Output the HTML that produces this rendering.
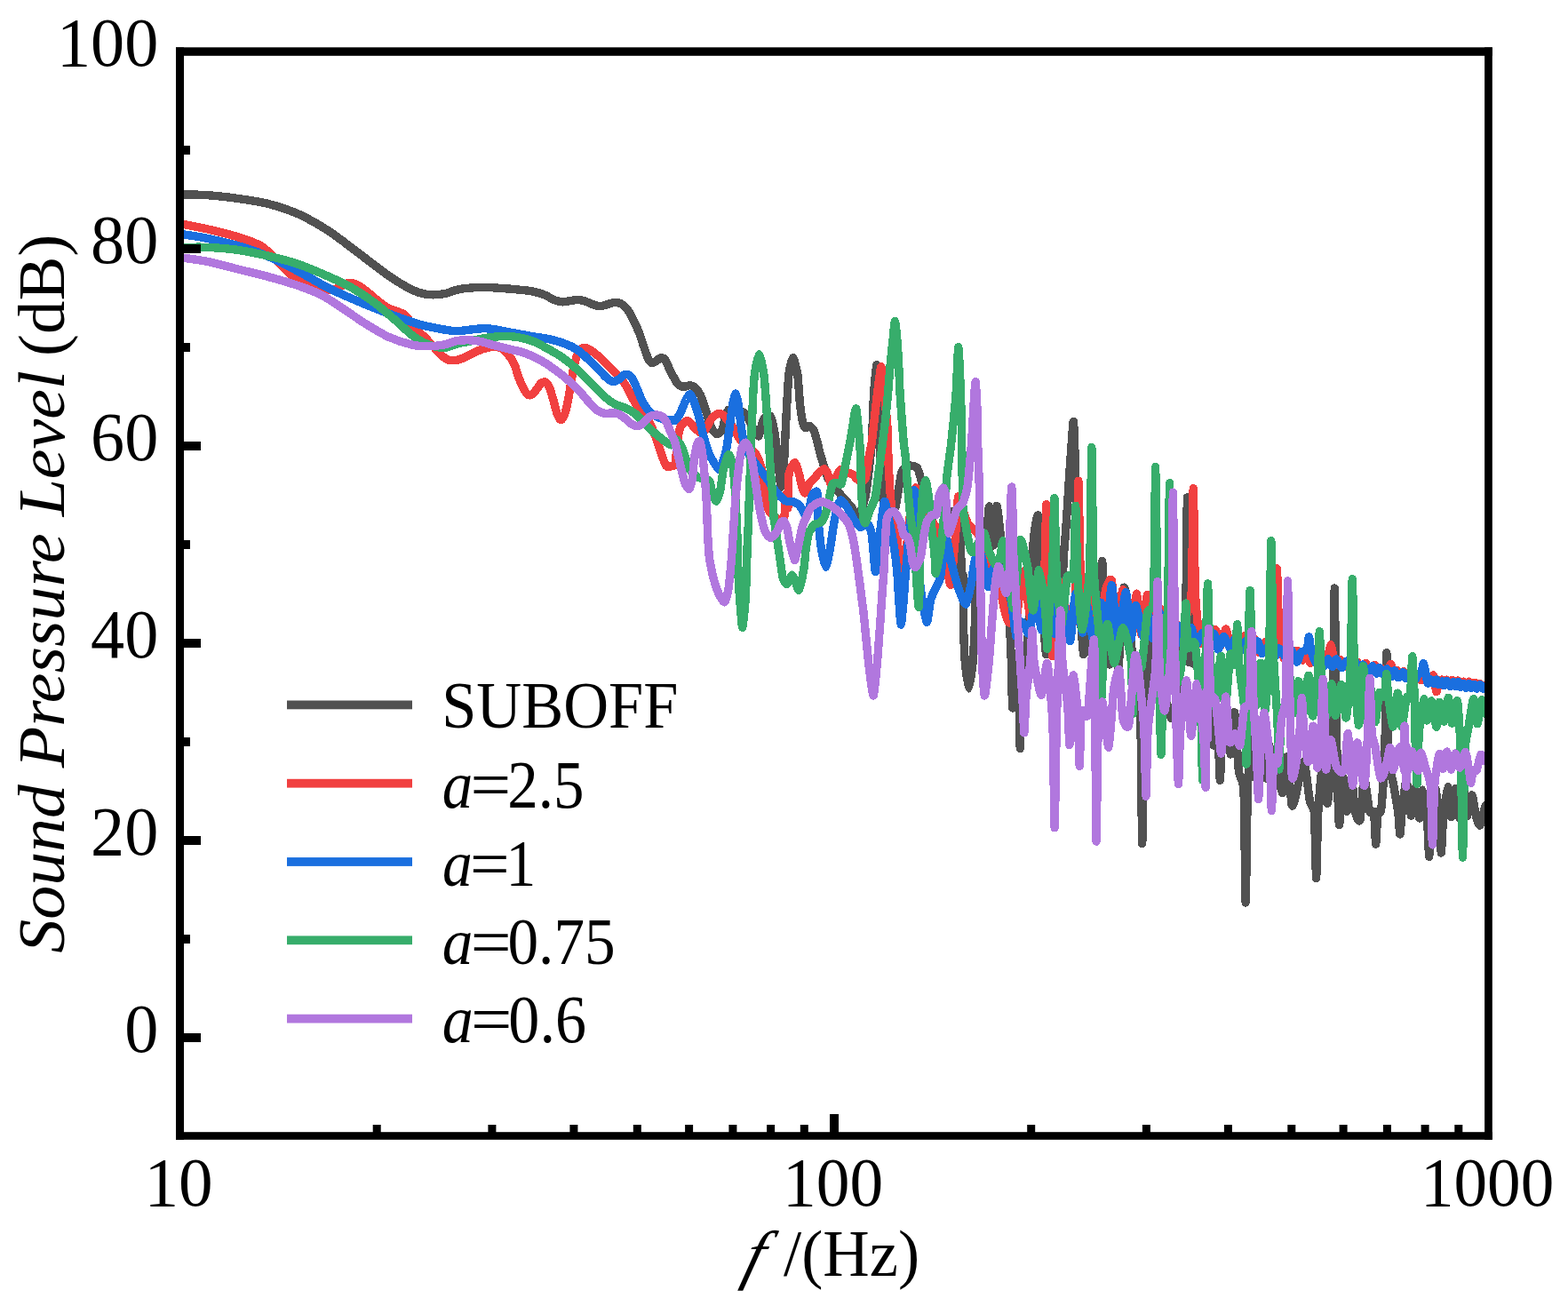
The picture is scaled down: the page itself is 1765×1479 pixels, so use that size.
<!DOCTYPE html>
<html lang="en"><head><meta charset="utf-8"><title>Sound Pressure Level</title>
<style>html,body{margin:0;padding:0;background:#fff;overflow:hidden}svg{display:block}text{font-family:"Liberation Serif","DejaVu Serif",serif;fill:#000}.i{font-style:italic}.c{fill:none;stroke-width:9.4;stroke-linejoin:round;stroke-linecap:butt}</style></head><body>
<svg width="1765" height="1479" viewBox="0 0 1765 1479" role="img" aria-label="Sound pressure level spectra">
<rect width="1765" height="1479" fill="#fff"/>
<defs><clipPath id="cp"><rect x="202.5" y="58.0" width="1473.0" height="1220.2"/></clipPath></defs>
<g clip-path="url(#cp)" shape-rendering="crispEdges">
<path class="c" stroke="#515151" d="M200.0 218.7C201.2 218.7 201.5 218.7 207.1 218.9C212.8 219.1 223.9 219.0 234.0 219.7C244.1 220.5 256.7 221.9 268.0 223.5C279.3 225.1 290.7 226.5 302.0 229.4C313.3 232.4 324.6 235.9 336.0 241.0C347.3 246.1 358.6 252.7 370.0 260.0C381.3 267.4 392.6 276.7 404.0 285.2C415.3 293.6 428.0 303.9 438.0 310.7C447.9 317.5 456.4 322.5 463.5 326.0C470.5 329.4 474.4 330.6 480.5 331.4C486.5 332.2 494.4 331.6 500.0 330.7C505.6 329.9 508.8 327.4 514.0 326.2C519.2 325.1 525.3 324.3 531.0 323.9C536.7 323.4 542.3 323.4 548.0 323.5C553.7 323.6 559.3 324.1 565.0 324.5C570.7 324.9 576.3 325.3 582.0 325.9C587.6 326.5 593.9 326.9 599.0 327.9C604.1 328.9 608.3 330.2 612.6 331.8C616.8 333.5 621.1 336.5 624.5 337.8C627.9 339.1 630.1 339.7 633.0 339.8C635.8 340.0 638.6 339.0 641.5 338.6C644.3 338.3 647.2 337.4 650.0 337.5C652.7 337.5 655.8 338.2 658.5 339.0C661.1 339.8 664.4 341.7 667.0 342.5C669.5 343.4 672.9 344.6 675.5 344.6C677.9 344.6 681.5 343.2 684.0 342.5C686.3 342.0 690.3 340.4 692.5 340.3C694.5 340.3 697.4 341.0 699.3 342.0C701.1 343.0 704.3 345.6 706.1 348.0C707.8 350.3 711.1 356.4 712.9 359.9C714.6 363.3 718.2 371.4 719.7 375.2C721.1 378.9 723.6 387.2 724.8 390.5C725.9 393.7 728.0 400.3 729.0 402.4C730.0 404.5 732.2 407.8 733.3 408.3C734.3 408.8 737.2 407.3 738.4 406.6C739.5 406.0 742.3 403.0 743.5 402.7C744.6 402.5 747.5 403.2 748.6 404.4C749.6 405.6 751.8 411.6 753.1 414.3C754.4 416.8 759.7 427.6 761.1 429.7C762.5 431.8 765.7 434.3 766.8 434.8C767.9 435.3 771.4 434.9 772.5 434.8C773.5 434.7 776.0 433.5 777.0 433.7C778.0 433.9 781.5 435.4 782.7 436.5C783.8 437.6 787.2 442.1 788.3 444.4C789.5 446.8 793.0 457.3 794.0 460.3C795.0 463.4 797.6 472.5 798.5 475.0C799.4 477.5 802.2 483.9 803.1 485.2C804.0 486.6 806.6 488.9 807.6 488.6C808.6 488.4 812.4 485.0 813.3 483.0C814.2 480.9 816.0 470.4 816.7 468.2C817.3 466.1 818.9 462.2 820.1 461.4C821.2 460.7 826.1 459.9 828.0 460.3C829.9 460.8 837.4 463.9 839.3 466.0C841.2 468.0 845.8 478.2 847.3 480.7C848.7 483.2 852.9 491.6 854.1 490.9C855.2 490.2 857.7 476.2 858.6 473.9C859.5 471.6 862.2 468.1 863.1 467.7C864.0 467.2 866.7 467.3 867.6 469.4C868.6 471.5 871.4 483.9 872.2 488.6C873.0 493.3 874.9 510.4 875.6 516.3C876.3 522.3 878.3 547.5 879.0 548.0C879.7 548.6 881.8 529.1 882.4 522.0C882.9 514.8 884.3 483.4 884.6 476.7C885.0 469.9 885.4 460.2 885.8 454.6C886.1 449.0 887.4 425.9 888.0 420.7C888.7 415.5 891.6 402.6 892.6 402.6C893.5 402.6 896.9 415.5 897.7 420.7C898.5 425.9 899.9 449.1 900.5 454.6C901.1 460.2 903.2 473.5 903.9 476.2C904.6 478.9 906.5 481.5 907.3 481.8C908.1 482.2 910.9 479.2 911.8 479.6C912.7 479.9 915.6 483.5 916.4 485.2C917.2 487.0 919.1 494.5 919.8 497.0C920.5 499.6 922.5 508.2 923.2 510.7C923.9 513.1 925.7 519.2 926.6 522.0C927.5 524.8 930.5 535.8 932.2 539.0C933.9 542.2 940.8 550.3 943.6 553.7C946.3 557.1 958.0 569.5 960.0 573.0C962.0 576.5 962.4 590.2 963.8 588.8C965.2 587.4 972.5 565.6 974.0 559.3C975.5 552.9 977.8 531.5 978.5 525.3C979.2 519.1 980.9 505.2 981.4 497.0C981.9 488.8 983.0 451.9 983.6 443.3C984.2 434.7 986.5 409.9 987.0 410.6C987.5 411.3 988.3 441.4 988.6 450.0C988.9 458.6 989.5 487.0 989.9 497.0C990.3 507.0 992.4 542.2 993.0 550.0C993.6 557.8 995.1 572.2 996.0 575.0C996.9 577.8 1000.8 578.4 1002.0 578.0C1003.2 577.6 1006.7 575.3 1008.0 570.7C1009.3 566.1 1013.4 536.8 1014.8 532.1C1016.2 527.4 1020.2 524.5 1022.0 524.0C1023.8 523.5 1030.9 524.8 1032.4 526.6C1034.0 528.4 1036.2 538.0 1037.5 542.3C1038.8 546.6 1043.4 564.3 1045.0 570.0C1046.6 575.7 1051.6 592.0 1053.3 599.0C1055.0 606.0 1060.5 639.9 1061.8 640.0C1063.1 640.1 1065.2 606.4 1066.0 600.0C1066.8 593.6 1069.3 578.3 1070.3 576.3C1071.3 574.3 1075.0 578.9 1076.0 580.0C1077.0 581.1 1079.8 578.4 1080.5 587.6C1081.2 596.8 1082.7 666.1 1083.0 672.0C1083.3 677.9 1083.8 644.2 1083.9 647.0C1084.1 649.8 1084.3 690.4 1084.5 700.0C1084.7 709.6 1085.6 735.8 1086.2 743.3C1086.8 750.8 1089.8 775.0 1090.7 775.0C1091.6 775.0 1094.5 751.0 1095.2 743.3C1095.9 735.6 1097.2 705.9 1097.5 698.0C1097.8 690.1 1097.8 669.8 1098.6 664.0C1099.3 658.2 1103.9 644.8 1105.0 640.0C1106.1 635.2 1109.2 623.0 1110.0 616.0C1110.8 609.0 1112.6 570.3 1113.4 570.1C1114.2 569.9 1117.5 614.1 1118.3 614.0C1119.1 613.9 1121.1 570.9 1121.9 569.5C1122.7 568.1 1125.3 594.5 1126.0 600.0C1126.7 605.5 1127.6 617.5 1128.5 625.0C1129.4 632.5 1133.9 663.5 1134.9 675.3C1135.9 687.1 1137.8 731.1 1138.3 743.3C1138.8 755.5 1139.2 797.9 1140.0 797.0C1140.8 796.1 1145.3 729.8 1146.1 734.3C1146.9 738.8 1147.9 842.4 1148.3 842.4C1148.7 842.4 1149.7 745.2 1150.5 734.3C1151.3 723.4 1155.0 742.5 1156.1 733.1C1157.1 723.7 1160.2 653.5 1161.0 640.0C1161.8 626.5 1163.7 603.9 1164.5 598.0C1165.3 592.1 1168.0 576.4 1168.7 580.6C1169.4 584.8 1170.1 624.4 1171.0 640.0C1171.9 655.6 1176.1 733.6 1177.5 736.5C1179.0 739.5 1184.0 668.9 1185.4 669.4C1186.7 669.8 1190.3 745.6 1191.5 741.2C1192.7 736.8 1196.7 639.1 1197.5 625.0C1198.3 610.9 1199.1 605.5 1199.5 600.0C1199.9 594.5 1201.0 577.0 1201.5 570.0C1202.0 563.0 1203.5 537.2 1204.0 530.0C1204.5 522.8 1205.9 503.5 1206.3 498.0C1206.7 492.5 1208.0 472.5 1208.4 474.7C1208.8 476.9 1210.0 510.5 1210.3 520.0C1210.6 529.5 1211.1 559.5 1211.3 570.0C1211.5 580.5 1211.5 608.4 1212.3 625.0C1213.1 641.6 1218.5 732.0 1219.7 736.5C1221.0 740.9 1223.3 668.5 1224.6 669.3C1225.9 670.1 1231.2 742.5 1232.6 744.7C1233.9 747.0 1237.7 702.8 1238.5 691.5C1239.3 680.1 1240.3 631.5 1240.7 631.5C1241.1 631.5 1242.1 679.8 1242.9 691.5C1243.7 703.1 1247.9 748.2 1249.0 747.9C1250.1 747.5 1252.6 687.7 1253.6 688.1C1254.6 688.5 1257.7 754.6 1258.8 752.0C1260.0 749.3 1263.8 667.9 1265.0 662.0C1266.2 656.1 1270.0 681.8 1271.2 692.7C1272.4 703.7 1275.7 761.3 1276.9 771.6C1278.1 781.8 1282.6 777.5 1283.5 795.3C1284.4 813.1 1285.3 949.7 1285.7 949.7C1286.1 949.7 1287.0 818.6 1287.9 795.3C1288.8 772.0 1293.9 719.1 1295.0 716.7C1296.2 714.3 1298.3 771.5 1299.4 771.3C1300.6 771.1 1305.1 714.1 1306.4 715.1C1307.6 716.0 1310.7 771.4 1311.8 780.7C1313.0 790.0 1316.8 806.4 1318.0 808.0C1319.2 809.6 1323.0 806.2 1324.1 797.1C1325.1 788.1 1327.7 726.5 1328.7 717.9C1329.8 709.3 1333.5 726.9 1334.3 711.1C1335.1 695.3 1336.1 556.7 1336.5 560.0C1336.9 563.3 1338.2 732.6 1338.6 744.5C1339.0 756.4 1340.4 679.0 1340.8 679.0C1341.2 679.0 1342.3 737.3 1343.0 744.5C1343.7 751.7 1346.8 743.6 1348.0 750.7C1349.3 757.8 1354.1 813.9 1355.2 815.8C1356.3 817.8 1358.0 768.0 1359.1 770.2C1360.2 772.4 1364.7 831.5 1365.9 837.6C1367.1 843.7 1370.4 827.1 1371.1 831.2C1371.8 835.3 1372.9 878.3 1373.3 878.3C1373.7 878.3 1374.9 840.3 1375.5 831.2C1376.1 822.1 1378.5 785.8 1379.5 787.5C1380.4 789.3 1384.1 847.4 1385.1 848.9C1386.1 850.3 1388.7 799.9 1389.7 801.8C1390.6 803.7 1393.3 859.3 1394.4 868.1C1395.4 876.9 1399.2 874.8 1400.0 889.6C1400.8 904.4 1401.8 1016.0 1402.2 1016.0C1402.6 1016.0 1403.7 909.3 1404.4 889.6C1405.1 869.9 1407.8 820.6 1408.8 819.3C1409.8 818.1 1413.6 876.4 1414.6 877.3C1415.7 878.1 1418.2 828.0 1419.3 827.9C1420.3 827.8 1424.2 875.1 1425.1 876.1C1426.1 877.2 1427.7 837.5 1428.7 838.4C1429.6 839.2 1433.7 883.7 1434.7 884.8C1435.7 885.9 1438.1 848.6 1439.0 849.3C1439.9 850.1 1442.5 892.1 1443.4 892.4C1444.4 892.6 1447.5 850.7 1448.6 852.0C1449.7 853.4 1453.1 901.5 1454.1 905.9C1455.1 910.3 1457.4 899.9 1458.4 896.4C1459.4 892.9 1462.7 874.8 1463.7 871.0C1464.7 867.2 1467.3 854.8 1468.3 857.9C1469.4 860.9 1473.3 895.9 1474.4 901.6C1475.5 907.3 1478.7 906.0 1479.4 914.6C1480.1 923.3 1481.2 988.3 1481.6 988.3C1482.0 988.3 1483.1 927.2 1483.8 914.6C1484.5 902.1 1487.5 864.2 1488.5 863.1C1489.6 862.1 1493.1 907.8 1494.3 904.2C1495.5 900.6 1499.3 851.2 1500.1 827.0C1500.9 802.8 1501.9 662.0 1502.3 662.0C1502.7 662.0 1504.0 800.4 1504.5 827.0C1505.0 853.6 1506.6 923.1 1507.4 928.0C1508.2 932.9 1511.3 877.1 1512.2 875.7C1513.1 874.2 1515.3 913.3 1516.2 913.2C1517.1 913.1 1520.2 874.6 1521.2 874.7C1522.1 874.7 1524.5 909.1 1525.4 913.9C1526.4 918.7 1529.9 926.7 1530.9 922.9C1531.9 919.1 1534.5 877.2 1535.6 876.2C1536.7 875.2 1540.6 909.2 1541.7 913.1C1542.8 916.9 1545.8 910.9 1546.5 914.6C1547.2 918.3 1548.3 950.1 1548.7 950.1C1549.1 950.1 1550.3 918.4 1550.9 914.6C1551.5 910.8 1553.8 918.2 1554.6 912.0C1555.4 905.8 1558.1 870.3 1558.7 852.6C1559.3 834.9 1560.5 734.8 1560.9 734.8C1561.3 734.8 1562.3 837.7 1563.1 852.6C1563.9 867.6 1567.7 878.1 1568.8 884.2C1569.8 890.3 1573.0 908.1 1573.7 913.6C1574.4 919.1 1575.5 939.0 1575.9 939.0C1576.3 939.0 1577.4 919.6 1578.1 913.6C1578.8 907.6 1582.0 878.5 1583.0 878.9C1584.1 879.4 1587.4 917.2 1588.3 918.1C1589.3 918.9 1591.5 887.2 1592.5 887.5C1593.4 887.7 1596.7 920.7 1597.6 920.9C1598.5 921.1 1600.6 889.1 1601.5 889.2C1602.4 889.3 1605.8 914.4 1606.5 921.9C1607.2 929.4 1608.3 964.2 1608.7 964.2C1609.1 964.2 1610.2 929.6 1610.9 921.9C1611.6 914.2 1614.6 887.2 1615.6 887.2C1616.5 887.2 1619.4 914.4 1620.1 921.7C1620.8 929.0 1621.9 960.0 1622.3 960.0C1622.7 960.0 1623.8 929.1 1624.5 921.7C1625.2 914.3 1628.8 885.9 1629.7 885.7C1630.6 885.5 1632.7 919.4 1633.6 919.6C1634.5 919.8 1637.3 887.3 1638.3 887.4C1639.3 887.6 1642.3 921.4 1643.2 921.3C1644.1 921.3 1646.2 887.4 1647.1 887.1C1647.9 886.8 1650.4 917.6 1651.4 918.3C1652.4 919.1 1655.9 894.8 1656.9 894.9C1657.9 895.0 1660.7 916.1 1661.6 919.5C1662.5 922.9 1665.0 930.1 1666.0 928.8C1667.0 927.5 1670.9 909.2 1672.0 907.0C1673.1 904.8 1676.5 907.0 1677.0 907.0"/>
<path class="c" stroke="#f14040" d="M200.0 251.1C201.2 251.3 201.5 251.4 207.1 252.5C212.8 253.7 223.9 255.6 234.0 258.0C244.1 260.4 258.1 263.7 268.0 266.8C277.9 269.9 286.4 272.5 293.5 276.7C300.6 280.9 304.8 286.6 310.5 292.0C316.1 297.4 321.2 304.3 327.5 309.0C333.7 313.7 341.4 317.1 347.9 320.0C354.4 323.0 361.2 326.1 366.6 326.8C372.0 327.5 375.9 325.7 380.2 324.3C384.4 322.9 388.4 318.9 392.1 318.3C395.8 317.8 398.9 319.3 402.3 320.9C405.7 322.4 407.1 323.6 412.5 327.7C417.8 331.8 427.5 341.1 434.6 345.5C441.6 349.9 449.9 350.5 455.0 354.0C460.1 357.6 460.9 362.1 465.2 366.8C469.4 371.4 474.6 376.1 480.5 382.1C486.3 388.0 495.0 398.5 500.0 402.5C505.0 406.4 507.1 405.7 510.6 405.8C514.1 405.9 517.4 404.5 520.8 403.2C524.2 402.0 527.3 399.8 531.0 398.1C534.7 396.4 538.9 394.3 542.9 393.0C546.9 391.8 551.1 390.6 554.8 390.5C558.5 390.3 562.2 390.8 565.0 392.2C567.8 393.6 569.5 396.1 571.8 399.0C574.1 401.8 576.6 404.9 578.6 409.2C580.6 413.4 582.0 419.9 583.7 424.5C585.4 429.0 587.1 433.1 588.8 436.4C590.5 439.6 592.2 442.7 593.9 444.0C595.6 445.3 597.3 445.0 599.0 444.0C600.7 443.0 602.4 440.2 604.1 438.1C605.8 435.9 607.5 432.5 609.2 431.3C610.9 430.0 612.7 429.6 614.3 430.4C615.8 431.3 617.1 433.1 618.5 436.4C619.9 439.6 621.4 445.2 622.8 450.0C624.2 454.8 625.8 461.6 627.0 465.3C628.3 469.0 629.2 471.5 630.4 472.1C631.7 472.6 633.3 471.8 634.7 468.7C636.1 465.6 637.6 459.3 638.9 453.4C640.2 447.4 641.2 439.5 642.3 433.0C643.4 426.5 644.5 419.9 645.7 414.3C647.0 408.8 648.5 402.6 650.0 399.0C651.5 395.5 653.4 393.3 655.1 392.2C656.7 391.1 658.3 391.3 660.2 391.8C662.0 392.4 664.4 393.7 667.0 395.6C669.5 397.4 674.1 401.3 677.2 404.1C680.1 406.8 684.4 411.4 687.4 414.3C690.2 417.1 695.0 421.4 697.6 424.5C700.0 427.4 704.0 433.0 706.1 436.4C708.0 439.6 711.1 446.9 712.9 450.0C714.6 452.9 717.8 457.6 719.7 460.2C721.5 462.6 726.3 467.5 728.2 470.4C729.9 473.1 733.6 480.8 735.0 484.0C736.3 487.0 738.9 494.3 740.1 497.6C741.2 500.7 744.0 509.9 745.2 512.9C746.2 515.8 749.2 523.5 750.3 524.8C751.3 526.0 754.3 525.0 755.4 524.8C756.3 524.5 759.3 524.6 760.0 522.0C760.7 519.4 761.7 503.4 762.3 499.3C762.8 495.2 764.5 483.8 765.7 481.2C766.8 478.6 772.0 473.3 773.6 473.3C775.2 473.3 780.1 479.8 781.5 481.2C783.0 482.5 787.1 486.6 788.3 486.9C789.6 487.1 792.6 485.2 794.0 483.5C795.4 481.8 800.3 471.7 801.9 469.9C803.5 468.0 808.5 465.4 809.9 465.3C811.2 465.2 814.5 467.8 815.5 468.7C816.5 469.6 818.9 472.9 820.1 474.4C821.2 475.9 825.7 481.6 826.9 483.5C828.0 485.3 830.1 490.7 831.4 492.5C832.6 494.3 837.4 499.8 839.3 501.6C841.2 503.4 848.8 508.0 850.7 510.7C852.5 513.3 856.5 524.2 857.5 527.6C858.4 531.0 859.3 541.2 859.7 544.6C860.2 548.0 861.4 558.6 862.0 561.6C862.5 564.7 864.2 572.6 865.4 574.7C866.5 576.8 871.6 581.7 873.3 582.7C875.0 583.6 881.2 587.0 882.4 584.4C883.5 581.7 884.2 557.3 884.6 556.0C885.1 554.7 886.6 573.6 886.9 571.3C887.3 569.1 887.3 538.4 888.0 533.3C888.8 528.3 893.7 520.8 894.8 520.8C896.0 520.8 898.6 530.6 899.4 533.3C900.2 536.0 902.1 545.9 902.8 548.0C903.5 550.2 905.4 555.2 906.2 554.8C907.0 554.5 909.8 546.1 910.7 544.6C911.6 543.2 914.2 541.2 915.2 540.1C916.3 539.0 919.7 534.6 920.9 533.3C922.2 532.1 926.6 527.5 927.7 527.6C928.8 527.8 931.4 532.5 932.2 534.4C933.0 536.4 934.8 546.5 935.6 546.9C936.4 547.4 939.2 540.8 940.2 539.0C941.2 537.2 944.6 529.6 945.8 528.8C947.1 528.0 951.2 530.5 952.6 531.0C954.1 531.6 958.5 533.4 960.0 534.4C961.5 535.5 965.8 540.7 967.2 541.2C968.6 541.7 972.9 541.6 974.0 539.0C975.1 536.4 977.3 519.2 978.0 515.0C978.7 510.8 980.7 502.0 981.4 497.0C982.1 492.0 984.3 471.2 985.0 465.0C985.7 458.8 987.8 440.2 988.5 435.0C989.2 429.8 991.4 411.8 992.1 412.8C992.8 413.8 994.8 438.3 995.5 445.0C996.2 451.7 998.4 472.0 998.9 480.0C999.4 488.0 999.8 516.2 1000.3 525.3C1000.8 534.4 1002.7 563.9 1003.5 570.7C1004.3 577.5 1007.1 587.6 1008.0 593.3C1008.9 599.0 1011.8 621.6 1012.5 627.3C1013.2 633.0 1014.2 650.7 1015.0 650.0C1015.8 649.3 1019.0 627.5 1020.0 620.0C1021.0 612.5 1023.9 582.1 1025.0 575.0C1026.1 567.9 1029.5 550.1 1030.7 549.1C1031.9 548.1 1035.6 561.9 1037.0 565.0C1038.4 568.1 1043.4 577.2 1045.0 580.0C1046.6 582.8 1051.8 590.3 1053.3 593.3C1054.8 596.3 1058.7 605.3 1060.0 610.0C1061.3 614.7 1065.0 635.2 1066.0 640.0C1067.0 644.8 1069.5 660.3 1070.3 658.3C1071.1 656.3 1073.3 627.3 1074.0 620.0C1074.7 612.7 1076.5 591.1 1077.0 585.0C1077.5 578.9 1077.8 560.0 1078.5 559.0C1079.2 558.0 1082.8 571.9 1084.0 575.0C1085.2 578.1 1088.4 587.5 1090.0 590.0C1091.6 592.5 1098.0 597.0 1100.0 600.0C1102.0 603.0 1108.2 616.0 1110.0 620.0C1111.8 624.0 1116.4 635.5 1118.0 640.0C1119.6 644.5 1124.7 660.2 1126.0 665.0C1127.3 669.8 1130.0 684.4 1131.0 688.0C1132.0 691.6 1134.6 700.8 1136.0 701.0C1137.4 701.2 1143.2 696.0 1144.8 690.3C1146.3 684.5 1150.2 642.4 1151.7 643.3C1153.3 644.1 1159.0 697.5 1160.6 698.5C1162.2 699.5 1166.6 658.6 1168.1 653.2C1169.6 647.8 1174.6 652.8 1175.6 644.2C1176.6 635.7 1177.4 567.6 1177.8 567.6C1178.2 567.6 1179.5 631.3 1180.0 644.2C1180.5 657.2 1181.9 687.3 1182.4 696.7C1182.9 706.1 1184.2 738.3 1184.6 738.3C1185.0 738.3 1185.8 705.0 1186.8 696.7C1187.8 688.4 1193.1 654.6 1194.7 655.3C1196.2 656.0 1200.6 699.3 1202.0 703.5C1203.4 707.8 1207.4 704.3 1208.4 698.1C1209.4 691.9 1211.2 657.5 1211.8 641.9C1212.4 626.2 1213.6 541.5 1214.0 541.5C1214.4 541.5 1215.2 625.7 1216.2 641.9C1217.2 658.1 1222.9 701.2 1224.2 703.7C1225.5 706.1 1227.9 666.8 1229.3 666.6C1230.7 666.5 1236.4 702.5 1238.0 702.1C1239.5 701.8 1243.5 668.4 1244.8 663.5C1246.1 658.7 1250.2 648.7 1251.4 653.6C1252.6 658.5 1255.9 711.2 1257.1 712.2C1258.4 713.3 1262.3 664.4 1263.9 663.9C1265.5 663.4 1271.5 707.1 1273.0 707.5C1274.6 708.0 1278.4 667.6 1279.6 668.3C1280.8 669.0 1283.7 714.4 1284.9 714.5C1286.1 714.6 1290.2 668.8 1291.8 669.3C1293.3 669.8 1298.9 718.4 1300.2 719.9C1301.6 721.5 1304.0 685.0 1305.4 684.8C1306.8 684.6 1312.4 717.9 1313.8 718.4C1315.2 718.8 1318.1 689.5 1319.5 689.5C1321.0 689.6 1326.9 717.7 1328.2 718.8C1329.6 719.9 1332.0 705.7 1333.2 700.6C1334.5 695.5 1340.1 683.1 1341.1 668.0C1342.1 652.9 1342.9 549.8 1343.3 549.8C1343.7 549.8 1344.7 650.6 1345.5 668.0C1346.3 685.4 1349.9 720.1 1351.0 724.1C1352.1 728.1 1355.9 708.1 1357.0 708.0C1358.0 707.8 1360.4 722.7 1361.5 722.8C1362.7 722.9 1367.1 708.5 1368.3 708.9C1369.6 709.3 1372.8 727.2 1374.0 727.1C1375.1 727.0 1378.7 707.8 1379.9 708.0C1381.1 708.2 1384.4 728.2 1385.5 729.0C1386.7 729.7 1390.3 715.8 1391.3 715.6C1392.3 715.4 1394.7 727.0 1395.7 727.1C1396.6 727.1 1399.7 715.2 1401.0 715.7C1402.2 716.2 1407.3 731.7 1408.4 732.0C1409.5 732.4 1411.2 719.1 1412.2 719.3C1413.1 719.6 1416.5 734.3 1417.8 734.6C1419.0 734.9 1423.3 722.1 1424.5 722.2C1425.7 722.3 1428.9 737.5 1429.9 735.8C1431.0 734.0 1434.5 714.1 1435.2 704.5C1435.9 694.9 1437.0 639.9 1437.4 639.9C1437.8 639.9 1438.8 694.4 1439.6 704.5C1440.4 714.6 1444.5 738.6 1445.4 741.1C1446.4 743.6 1448.3 729.4 1449.3 729.5C1450.3 729.7 1454.4 742.2 1455.4 742.4C1456.5 742.7 1458.8 732.1 1459.8 732.2C1460.9 732.3 1465.1 743.0 1466.1 743.2C1467.1 743.3 1468.8 733.1 1469.6 733.4C1470.5 733.7 1473.9 746.2 1474.9 746.3C1475.9 746.5 1479.1 734.6 1480.1 734.7C1481.2 734.9 1484.2 747.6 1485.3 747.8C1486.4 748.1 1490.2 738.8 1491.2 737.5C1492.3 736.2 1495.1 736.2 1495.8 735.0C1496.5 733.8 1497.6 725.8 1498.0 725.8C1498.4 725.8 1499.6 732.7 1500.2 735.0C1500.8 737.3 1503.5 748.0 1504.3 748.7C1505.1 749.5 1507.6 742.2 1508.6 742.3C1509.6 742.4 1513.5 750.0 1514.4 750.1C1515.4 750.1 1517.4 743.0 1518.3 743.2C1519.1 743.4 1521.8 751.8 1522.8 752.0C1523.7 752.1 1526.6 744.5 1527.5 744.8C1528.5 745.0 1531.0 754.7 1532.0 754.9C1533.0 755.1 1536.5 746.6 1537.5 746.6C1538.5 746.7 1541.1 755.1 1542.1 755.3C1543.1 755.4 1546.5 748.2 1547.5 748.2C1548.5 748.3 1551.0 755.4 1551.9 755.9C1552.7 756.3 1555.0 752.3 1555.9 752.6C1556.8 752.9 1560.0 759.8 1561.0 759.3C1561.9 758.7 1564.8 747.3 1565.7 747.4C1566.6 747.5 1568.8 759.2 1569.6 760.0C1570.4 760.7 1572.6 754.8 1573.3 755.0C1574.1 755.2 1576.5 761.7 1577.1 761.8C1577.8 761.8 1579.1 755.7 1579.8 755.7C1580.6 755.8 1583.5 762.2 1584.3 762.3C1585.2 762.4 1587.4 756.7 1588.2 756.8C1589.0 756.9 1591.6 763.5 1592.2 763.6C1592.9 763.8 1594.1 758.1 1594.8 758.3C1595.5 758.5 1598.3 765.4 1599.2 765.7C1600.0 765.9 1602.5 761.0 1603.3 761.0C1604.0 761.1 1605.8 766.1 1606.5 766.2C1607.3 766.3 1609.8 762.5 1610.6 761.9C1611.3 761.4 1613.2 758.9 1613.8 760.6C1614.4 762.3 1616.2 777.7 1616.8 778.5C1617.4 779.3 1618.9 770.1 1619.5 768.7C1620.2 767.4 1622.4 764.8 1623.0 764.8C1623.7 764.9 1625.1 769.3 1625.6 769.4C1626.2 769.4 1627.8 764.9 1628.5 765.1C1629.2 765.2 1632.1 770.5 1632.7 770.6C1633.3 770.6 1634.1 765.2 1634.7 765.2C1635.2 765.3 1637.9 770.9 1638.5 771.0C1639.1 771.1 1640.2 765.9 1640.8 765.9C1641.3 766.0 1643.4 771.6 1644.0 771.7C1644.7 771.8 1646.6 767.1 1647.2 767.1C1647.9 767.2 1649.5 772.4 1650.1 772.4C1650.7 772.4 1652.6 767.1 1653.3 767.1C1653.9 767.0 1656.0 772.0 1656.7 772.1C1657.4 772.2 1659.4 768.1 1659.9 768.2C1660.5 768.4 1661.7 773.4 1662.2 773.6C1662.8 773.7 1664.9 769.4 1665.6 769.5C1666.3 769.5 1668.6 773.9 1669.3 774.2C1669.9 774.4 1671.2 772.0 1672.0 771.8C1672.8 771.6 1676.5 771.8 1677.0 771.8"/>
<path class="c" stroke="#1a6fdf" d="M200.0 262.7C201.2 262.9 201.5 263.0 207.1 263.9C212.8 264.9 223.9 266.4 234.0 268.5C244.1 270.7 256.7 273.3 268.0 276.7C279.3 280.0 290.7 283.8 302.0 288.6C313.3 293.4 324.6 299.6 336.0 305.6C347.3 311.5 358.6 318.6 370.0 324.3C381.3 329.9 392.6 334.8 404.0 339.6C415.3 344.4 426.6 348.9 438.0 353.2C449.3 357.4 461.6 362.1 472.0 365.1C482.3 368.0 493.0 369.8 500.0 371.0C507.0 372.3 508.8 372.6 514.0 372.6C519.2 372.6 525.9 371.4 531.0 370.9C536.1 370.5 540.1 369.7 544.6 369.7C549.1 369.7 553.1 370.2 558.2 370.9C563.3 371.7 568.4 373.1 575.2 374.3C582.0 375.6 591.6 377.3 599.0 378.6C606.3 379.9 613.1 380.6 619.4 382.0C625.6 383.4 631.3 385.1 636.4 387.1C641.4 389.0 645.5 390.8 650.0 393.9C654.3 396.8 659.6 402.0 663.6 405.8C667.4 409.4 672.4 414.6 675.5 417.7C678.4 420.6 681.8 424.5 684.0 426.2C686.1 427.8 688.9 429.6 690.8 429.6C692.6 429.6 695.9 427.2 697.6 426.2C699.1 425.2 701.3 422.5 702.7 421.9C704.0 421.4 706.4 421.2 707.8 421.9C709.1 422.7 711.6 425.6 712.9 427.9C714.1 430.1 716.7 436.8 718.0 439.8C719.2 442.7 721.6 449.0 723.1 451.7C724.5 454.3 728.0 459.9 729.9 461.9C731.6 463.8 736.2 467.5 738.4 468.7C740.4 469.8 746.5 471.6 748.6 472.1C750.5 472.5 755.9 472.8 757.1 472.9C758.2 473.0 759.1 474.0 760.0 473.3C760.9 472.5 764.4 467.7 765.7 465.3C766.9 462.9 771.3 451.6 772.5 449.5C773.6 447.3 776.1 443.5 777.0 443.8C777.9 444.1 780.5 450.1 781.5 452.9C782.5 455.6 786.2 467.3 787.2 471.0C788.2 474.7 790.7 486.5 791.7 490.3C792.7 494.0 796.3 505.4 797.4 508.4C798.5 511.3 801.8 517.7 803.1 519.7C804.3 521.8 808.7 529.0 809.9 528.8C811.0 528.6 813.6 519.8 814.4 517.5C815.2 515.1 817.2 507.9 817.8 505.0C818.4 502.0 819.8 491.4 820.3 488.0C820.8 484.6 822.1 474.5 822.5 471.0C823.0 467.5 824.6 455.7 825.2 452.9C825.7 450.0 827.4 442.7 828.0 442.7C828.6 442.7 830.3 450.0 830.8 452.9C831.3 455.7 832.6 467.5 833.1 471.0C833.5 474.5 834.8 484.8 835.4 488.0C835.9 491.2 837.3 500.2 838.2 502.7C839.0 505.2 842.6 511.0 843.9 512.9C845.1 514.8 849.3 520.2 850.7 522.0C852.0 523.8 856.1 529.2 857.5 531.0C858.8 532.9 862.9 538.2 864.2 540.1C865.6 542.0 869.7 548.5 871.0 550.3C872.4 552.1 876.5 556.9 877.8 558.2C879.2 559.6 883.1 563.2 884.6 563.9C886.2 564.6 892.2 564.6 893.7 565.0C895.2 565.5 898.4 567.4 899.4 568.4C900.4 569.5 903.1 574.0 903.9 575.2C904.7 576.5 906.6 581.1 907.3 580.9C908.0 580.7 910.0 575.2 910.7 573.0C911.4 570.7 913.2 560.2 914.1 558.2C915.0 556.3 919.1 551.3 919.8 553.7C920.5 556.2 920.5 576.4 920.9 582.7C921.4 589.0 923.5 611.1 924.3 616.7C925.2 622.2 928.4 638.2 929.4 638.2C930.4 638.2 933.7 621.1 934.5 616.7C935.4 612.2 937.1 598.5 937.9 594.0C938.7 589.5 941.5 574.5 942.4 571.3C943.3 568.2 945.7 562.6 947.0 562.8C948.2 562.9 953.6 571.0 954.9 573.0C956.2 575.0 958.7 580.6 960.0 582.7C961.3 584.7 966.6 592.6 968.3 593.3C970.0 594.0 975.7 589.3 977.0 590.0C978.3 590.7 980.4 596.5 981.0 600.0C981.6 603.5 983.1 620.6 983.5 625.0C983.9 629.4 984.9 643.6 985.3 643.6C985.7 643.6 987.0 629.4 987.5 625.0C988.0 620.6 989.7 606.1 990.5 600.0C991.3 593.9 994.5 566.2 995.5 564.4C996.5 562.6 999.1 578.0 1000.0 582.0C1000.9 586.0 1003.8 600.1 1004.6 604.6C1005.4 609.1 1007.4 622.8 1008.0 627.3C1008.6 631.8 1009.9 645.2 1010.3 650.0C1010.7 654.8 1011.4 670.0 1011.8 675.3C1012.2 680.6 1013.7 703.1 1014.2 703.1C1014.7 703.1 1016.7 680.9 1017.2 675.3C1017.7 669.7 1018.6 655.2 1019.3 647.0C1020.0 638.8 1022.9 602.8 1023.9 593.3C1024.9 583.8 1028.2 554.3 1029.0 552.0C1029.8 549.7 1031.4 564.9 1031.8 570.7C1032.2 576.5 1032.5 601.4 1032.9 610.3C1033.3 619.2 1035.0 651.0 1036.0 660.0C1037.0 669.0 1041.9 698.8 1043.1 700.3C1044.3 701.8 1046.6 679.2 1047.6 675.3C1048.6 671.4 1052.3 664.0 1053.3 661.7C1054.3 659.4 1057.1 655.3 1057.8 652.7C1058.5 650.1 1060.0 639.8 1060.5 635.7C1061.0 631.6 1062.5 614.9 1063.0 612.0C1063.5 609.1 1065.1 605.2 1065.8 607.0C1066.5 608.8 1069.3 625.4 1070.3 630.0C1071.3 634.6 1074.9 648.7 1076.0 652.7C1077.1 656.7 1080.5 667.0 1081.6 669.7C1082.7 672.4 1086.2 681.0 1087.3 679.9C1088.4 678.8 1092.1 662.7 1093.0 658.3C1093.9 653.9 1095.6 639.7 1096.4 635.7C1097.2 631.7 1100.0 618.6 1101.0 618.0C1102.0 617.4 1104.9 625.7 1106.0 630.0C1107.1 634.3 1111.0 659.6 1112.2 660.6C1113.4 661.6 1116.8 640.6 1118.0 640.0C1119.2 639.4 1122.8 655.0 1124.0 655.0C1125.2 655.0 1128.6 638.2 1130.0 640.0C1131.4 641.8 1136.5 665.8 1137.9 673.4C1139.3 681.1 1142.8 713.6 1144.0 716.3C1145.2 718.9 1148.5 700.3 1150.0 700.0C1151.5 699.7 1157.0 715.8 1158.6 713.1C1160.1 710.4 1164.1 673.1 1165.6 672.7C1167.0 672.2 1171.3 709.2 1172.8 709.1C1174.4 709.0 1179.4 671.0 1180.9 671.5C1182.3 671.9 1185.8 713.0 1187.3 713.4C1188.8 713.7 1194.5 674.2 1196.2 675.0C1197.9 675.8 1203.0 722.2 1204.5 721.5C1205.9 720.9 1209.3 669.2 1210.7 668.3C1212.1 667.4 1217.2 711.0 1218.4 712.1C1219.7 713.2 1221.8 678.9 1223.1 679.7C1224.3 680.5 1229.1 720.2 1230.7 720.0C1232.2 719.9 1237.3 678.2 1238.8 678.2C1240.2 678.1 1243.7 721.4 1245.0 719.5C1246.3 717.5 1250.1 658.7 1251.4 658.7C1252.7 658.7 1256.5 719.0 1258.1 719.8C1259.6 720.6 1265.8 666.6 1267.3 666.6C1268.8 666.6 1271.7 718.1 1272.8 719.5C1273.9 721.0 1277.1 681.7 1278.5 681.5C1279.9 681.2 1285.5 715.8 1286.8 716.7C1288.2 717.6 1291.1 690.3 1292.2 690.5C1293.3 690.7 1296.5 718.8 1297.8 718.7C1299.1 718.6 1303.9 689.4 1305.3 689.6C1306.6 689.8 1310.3 720.0 1311.5 720.6C1312.7 721.2 1316.1 695.2 1317.3 695.8C1318.4 696.4 1321.7 725.6 1322.9 726.4C1324.1 727.3 1328.1 704.6 1329.4 704.4C1330.7 704.2 1334.7 724.1 1335.8 724.3C1336.9 724.5 1339.7 706.2 1340.7 706.3C1341.8 706.4 1345.2 724.9 1346.5 725.4C1347.8 726.0 1352.6 712.2 1353.9 712.2C1355.3 712.2 1359.1 725.3 1360.3 725.4C1361.6 725.5 1365.4 712.7 1366.5 713.3C1367.6 713.8 1370.1 730.6 1371.2 730.9C1372.3 731.2 1376.1 716.5 1377.5 716.4C1378.8 716.2 1383.4 729.2 1384.7 729.3C1386.1 729.5 1389.7 717.7 1391.0 717.9C1392.2 718.2 1396.1 731.7 1397.2 732.0C1398.4 732.4 1401.5 721.3 1402.7 721.5C1404.0 721.7 1408.6 733.9 1409.9 734.0C1411.2 734.0 1414.6 721.8 1415.6 721.9C1416.7 722.1 1419.3 735.0 1420.6 735.6C1421.8 736.2 1426.7 727.4 1428.1 727.8C1429.5 728.1 1433.6 738.7 1434.7 739.0C1435.9 739.2 1438.6 729.8 1439.9 730.0C1441.1 730.1 1446.3 740.3 1447.6 740.4C1449.0 740.6 1452.2 731.0 1453.4 731.4C1454.7 731.9 1458.7 744.7 1459.8 745.0C1460.9 745.3 1463.5 735.8 1464.6 734.3C1465.8 732.9 1470.3 732.4 1471.2 730.7C1472.1 729.0 1473.0 716.9 1473.4 716.9C1473.8 716.9 1474.8 727.8 1475.6 730.7C1476.4 733.6 1480.3 745.6 1481.4 746.3C1482.4 747.1 1485.4 737.8 1486.2 738.2C1487.0 738.6 1489.0 749.9 1489.9 750.2C1490.8 750.6 1494.0 741.7 1495.0 741.7C1496.0 741.7 1499.0 750.5 1499.9 750.5C1500.9 750.5 1503.4 741.8 1504.4 741.9C1505.4 742.1 1509.1 751.4 1510.2 751.6C1511.3 751.8 1514.7 743.8 1515.8 744.1C1516.9 744.4 1520.1 754.4 1521.1 754.5C1522.1 754.6 1524.9 745.3 1525.9 745.3C1526.8 745.4 1530.0 754.8 1530.8 755.1C1531.7 755.3 1533.3 747.8 1534.2 748.1C1535.2 748.3 1539.2 757.4 1540.3 757.5C1541.4 757.7 1544.1 749.7 1545.0 749.8C1545.9 749.9 1548.7 757.9 1549.5 758.1C1550.3 758.2 1552.0 751.3 1552.8 751.3C1553.5 751.4 1556.1 758.4 1556.9 758.6C1557.8 758.7 1560.2 752.7 1561.2 753.0C1562.2 753.3 1566.1 761.1 1566.9 761.3C1567.8 761.5 1569.0 754.7 1569.7 754.8C1570.5 755.0 1573.2 762.6 1574.1 762.8C1575.1 763.0 1578.4 756.5 1579.2 756.6C1580.1 756.6 1581.8 763.2 1582.6 763.5C1583.4 763.8 1586.1 759.5 1587.1 759.8C1588.1 760.0 1591.6 765.8 1592.4 766.0C1593.2 766.1 1594.4 761.8 1595.2 760.8C1596.0 759.8 1599.4 757.3 1600.1 755.9C1600.8 754.4 1601.9 746.6 1602.3 746.6C1602.7 746.6 1604.0 753.6 1604.5 755.9C1605.0 758.1 1606.5 768.2 1607.1 769.1C1607.7 770.0 1609.8 764.8 1610.5 764.8C1611.2 764.9 1613.4 769.5 1614.0 769.5C1614.7 769.5 1616.4 765.0 1617.0 765.1C1617.5 765.3 1618.7 770.6 1619.3 770.8C1620.0 770.9 1622.8 766.8 1623.5 766.9C1624.1 767.0 1625.2 771.6 1625.7 771.6C1626.2 771.6 1627.8 766.5 1628.5 766.6C1629.2 766.7 1631.8 772.6 1632.5 772.7C1633.2 772.8 1635.0 767.6 1635.6 767.6C1636.2 767.6 1637.6 772.7 1638.2 772.7C1638.8 772.7 1640.9 767.6 1641.5 767.6C1642.1 767.7 1643.4 773.0 1644.0 773.2C1644.5 773.3 1646.8 769.1 1647.4 769.2C1648.0 769.3 1649.5 774.2 1650.1 774.2C1650.7 774.2 1653.1 769.2 1653.7 769.2C1654.3 769.2 1655.8 774.2 1656.4 774.4C1656.9 774.5 1658.7 770.4 1659.3 770.5C1659.9 770.6 1661.6 775.2 1662.3 775.2C1663.0 775.2 1665.6 770.6 1666.3 770.6C1667.0 770.6 1668.7 774.8 1669.3 775.1C1669.8 775.4 1671.2 773.7 1672.0 773.6C1672.8 773.5 1676.5 773.6 1677.0 773.6"/>
<path class="c" stroke="#37ad6b" d="M200.0 278.4C201.2 278.4 201.5 278.4 207.1 278.4C212.8 278.4 223.9 277.9 234.0 278.4C244.1 278.9 256.7 279.8 268.0 281.4C279.3 283.1 290.7 285.4 302.0 288.1C313.3 290.7 324.6 293.5 336.0 297.4C347.3 301.3 360.1 307.0 370.0 311.4C379.9 315.7 387.0 318.8 395.5 323.6C404.0 328.4 412.5 333.9 421.0 340.3C429.5 346.6 439.4 355.6 446.5 361.7C453.5 367.8 457.8 372.7 463.5 377.0C469.1 381.2 474.4 384.8 480.5 387.2C486.5 389.6 494.4 391.4 500.0 391.4C505.6 391.4 508.8 388.4 514.0 387.1C519.2 385.8 525.3 384.8 531.0 383.7C536.7 382.5 542.3 381.1 548.0 380.3C553.7 379.4 559.3 378.7 565.0 378.6C570.7 378.4 576.3 378.6 582.0 379.4C587.6 380.3 593.3 381.6 599.0 383.7C604.6 385.8 610.3 389.1 616.0 392.2C621.6 395.3 627.3 398.4 633.0 402.4C638.6 406.3 644.3 410.9 650.0 416.0C655.3 420.8 662.2 428.2 667.0 433.0C671.5 437.5 676.8 443.3 680.6 446.6C684.2 449.7 689.1 453.3 692.5 455.1C695.7 456.8 701.4 458.0 704.4 459.3C707.2 460.6 711.9 463.2 714.6 465.3C717.1 467.2 722.3 473.0 724.8 475.5C727.1 477.8 732.6 483.5 735.0 485.7C737.2 487.7 742.9 492.5 745.2 494.2C747.3 495.8 753.8 501.0 755.4 501.0C756.9 500.9 758.7 493.4 760.0 493.7C761.3 493.9 766.3 500.5 767.9 503.9C769.5 507.3 774.1 524.3 775.9 527.6C777.7 531.0 783.8 535.9 786.1 537.3C788.3 538.6 796.9 539.4 798.5 541.2C800.1 543.1 801.1 553.7 801.9 556.0C802.7 558.2 805.6 564.5 806.5 563.9C807.4 563.3 810.2 553.9 811.0 550.3C811.8 546.7 813.5 531.5 814.4 527.6C815.3 523.8 819.0 512.4 820.1 511.8C821.1 511.2 823.9 518.7 824.6 522.0C825.3 525.3 826.4 538.6 826.9 544.6C827.3 550.7 828.8 575.5 829.1 582.7C829.5 589.9 830.1 609.9 830.3 616.7C830.5 623.5 830.9 644.4 831.2 650.7C831.4 656.9 832.6 673.4 833.1 679.0C833.5 684.5 835.1 706.2 835.7 706.2C836.3 706.2 838.3 684.5 838.8 679.0C839.2 673.4 840.0 656.9 840.2 650.7C840.5 644.4 840.9 622.3 841.1 616.7C841.3 611.0 841.7 606.0 842.2 594.0C842.6 582.0 845.0 511.0 845.6 497.0C846.1 483.1 846.9 462.3 847.3 454.6C847.6 447.0 848.8 426.2 849.5 420.7C850.3 415.1 853.6 398.7 854.6 398.7C855.6 398.7 858.9 415.1 859.7 420.7C860.5 426.2 862.0 447.0 862.5 454.6C863.1 462.3 864.9 489.2 865.4 497.0C865.9 504.9 867.1 526.3 867.6 533.3C868.2 540.3 870.1 562.4 870.5 567.3C870.8 572.2 870.7 578.9 871.0 582.7C871.4 586.5 873.8 600.8 874.4 605.3C875.1 609.9 877.2 623.5 877.8 628.0C878.5 632.5 880.5 647.7 881.2 650.7C882.0 653.6 884.7 657.8 885.8 657.5C886.9 657.1 890.7 646.6 892.0 647.3C893.4 647.9 898.1 665.0 899.4 664.2C900.7 663.5 904.2 644.1 905.0 639.3C905.8 634.6 906.7 620.6 907.3 616.7C907.9 612.7 909.8 602.3 910.7 599.7C911.6 597.1 915.1 591.7 916.4 590.6C917.6 589.5 922.0 589.1 923.2 588.3C924.3 587.5 926.9 584.4 927.7 582.7C928.5 581.0 930.2 575.0 931.1 571.3C932.0 567.6 935.6 548.6 936.8 545.8C937.9 543.0 941.4 543.6 942.4 543.5C943.5 543.4 946.1 546.5 947.0 544.6C947.9 542.8 950.2 530.4 951.3 525.3C952.4 520.2 956.5 499.3 957.5 494.0C958.5 488.7 960.4 475.4 961.0 472.0C961.6 468.6 963.1 457.9 963.8 460.4C964.5 462.9 967.1 491.6 967.6 497.0C968.1 502.4 968.3 508.9 968.5 514.0C968.7 519.1 969.2 541.2 969.5 548.0C969.8 554.8 971.2 577.9 971.7 582.0C972.2 586.1 973.3 589.4 974.0 588.8C974.7 588.2 977.4 579.2 978.5 576.3C979.6 573.3 984.2 564.4 985.3 559.3C986.4 554.2 989.0 532.1 989.9 525.3C990.8 518.5 993.7 496.8 994.4 491.3C995.1 485.8 996.4 474.8 996.9 470.0C997.4 465.2 999.0 449.4 999.5 443.3C1000.0 437.2 1001.7 415.5 1002.3 409.3C1002.9 403.1 1004.7 385.8 1005.2 381.0C1005.7 376.2 1006.9 361.6 1007.4 361.6C1007.9 361.6 1009.3 376.2 1009.7 381.0C1010.1 385.8 1011.3 403.1 1011.6 409.3C1011.9 415.5 1012.6 434.5 1013.1 443.3C1013.6 452.1 1016.5 489.9 1017.1 497.0C1017.7 504.1 1018.8 508.9 1019.3 514.0C1019.8 519.1 1021.0 541.2 1021.6 548.0C1022.2 554.8 1024.2 575.8 1025.0 582.0C1025.8 588.2 1028.8 603.5 1029.5 610.3C1030.2 617.1 1031.0 642.7 1031.5 650.0C1032.0 657.3 1033.7 683.3 1034.1 683.3C1034.5 683.3 1035.2 658.3 1035.4 650.0C1035.6 641.7 1036.0 610.1 1036.3 600.7C1036.6 591.3 1038.0 562.0 1038.6 556.0C1039.2 550.0 1041.3 540.4 1042.0 540.7C1042.7 541.0 1044.8 555.2 1045.4 559.3C1046.0 563.4 1047.1 577.5 1047.6 582.0C1048.0 586.5 1049.4 600.1 1049.9 604.6C1050.4 609.1 1051.9 623.2 1052.2 627.3C1052.5 631.4 1052.6 646.4 1053.3 645.3C1054.0 644.2 1058.0 623.5 1059.0 616.0C1060.0 608.5 1062.8 578.6 1063.5 570.7C1064.2 562.8 1065.1 543.5 1065.8 536.7C1066.5 529.9 1069.6 508.4 1070.3 502.7C1071.0 497.0 1072.1 485.9 1072.7 480.0C1073.3 474.1 1075.5 452.2 1076.1 443.3C1076.7 434.4 1078.3 390.7 1078.8 390.7C1079.3 390.7 1081.1 432.7 1081.5 443.3C1081.9 453.9 1082.4 488.8 1082.6 497.0C1082.8 505.2 1083.0 517.9 1083.1 525.3C1083.2 532.7 1083.5 563.9 1083.9 570.7C1084.3 577.5 1086.5 588.8 1087.3 593.3C1088.1 597.8 1091.0 613.2 1091.8 616.0C1092.6 618.8 1094.3 622.0 1095.2 621.6C1096.1 621.2 1099.7 614.2 1101.0 612.0C1102.3 609.8 1106.8 599.2 1108.0 600.0C1109.2 600.8 1111.7 616.4 1113.0 620.0C1114.3 623.6 1119.7 635.5 1121.0 636.0C1122.3 636.5 1125.1 627.6 1126.0 625.0C1126.9 622.4 1128.5 604.0 1130.0 610.0C1131.5 616.0 1139.0 684.8 1140.8 684.6C1142.7 684.4 1146.7 613.0 1148.3 608.2C1149.9 603.4 1155.0 628.6 1156.5 636.5C1157.9 644.4 1161.4 686.5 1162.8 687.0C1164.1 687.5 1168.3 641.3 1169.7 641.4C1171.1 641.5 1175.8 679.0 1176.7 687.9C1177.6 696.8 1178.5 730.4 1178.9 730.4C1179.3 730.4 1180.5 697.0 1181.1 687.9C1181.7 678.7 1184.1 651.9 1184.7 639.2C1185.3 626.5 1186.5 560.8 1186.9 560.8C1187.3 560.8 1188.3 625.0 1189.1 639.2C1189.9 653.4 1193.5 702.0 1194.7 703.0C1196.0 704.0 1199.9 654.7 1201.3 649.3C1202.7 644.0 1207.6 657.4 1208.5 649.4C1209.4 641.4 1210.3 569.3 1210.7 569.3C1211.1 569.3 1212.1 635.5 1212.9 649.4C1213.7 663.3 1217.1 709.4 1218.5 708.4C1219.9 707.4 1225.6 659.7 1226.6 639.2C1227.6 618.7 1228.4 503.6 1228.8 503.6C1229.2 503.6 1230.1 617.3 1231.0 639.2C1231.9 661.0 1237.0 707.7 1237.9 722.1C1238.8 736.6 1239.7 784.1 1240.1 784.1C1240.5 784.1 1241.6 730.3 1242.3 722.1C1243.0 714.0 1245.7 700.5 1246.9 702.9C1248.1 705.3 1252.6 745.9 1254.3 746.3C1256.0 746.7 1262.0 707.3 1263.9 706.8C1265.8 706.3 1271.9 732.0 1273.0 741.7C1274.1 751.3 1274.8 803.3 1275.2 803.3C1275.6 803.3 1276.4 746.9 1277.4 741.7C1278.4 736.4 1283.6 755.8 1285.0 750.6C1286.4 745.4 1290.1 697.3 1291.5 689.7C1292.9 682.1 1297.6 691.1 1298.5 674.7C1299.4 658.3 1300.3 525.7 1300.7 525.7C1301.1 525.7 1302.5 650.6 1302.9 674.7C1303.3 698.9 1304.4 750.0 1304.8 767.5C1305.2 784.9 1306.6 849.2 1307.0 849.2C1307.4 849.2 1308.5 783.7 1309.2 767.5C1309.9 751.2 1313.7 708.8 1314.4 686.4C1315.1 664.1 1316.2 543.8 1316.6 543.8C1317.0 543.8 1317.9 664.0 1318.8 686.4C1319.7 708.9 1324.0 764.1 1325.4 768.3C1326.7 772.4 1331.7 737.3 1332.6 728.4C1333.5 719.5 1334.4 679.0 1334.8 679.0C1335.2 679.0 1336.0 723.9 1337.0 728.4C1338.0 732.9 1343.5 717.7 1344.9 724.3C1346.4 731.0 1350.6 779.2 1351.5 794.6C1352.4 810.0 1353.3 878.0 1353.7 878.0C1354.1 878.0 1355.5 809.3 1355.9 794.6C1356.3 779.9 1356.9 745.1 1357.3 731.3C1357.7 717.5 1359.1 656.9 1359.5 656.9C1359.9 656.9 1360.9 717.4 1361.7 731.3C1362.5 745.2 1366.5 794.9 1367.8 795.6C1369.1 796.3 1373.1 738.8 1374.2 738.5C1375.4 738.3 1378.4 793.2 1379.5 793.0C1380.6 792.8 1383.7 741.2 1384.8 736.7C1385.9 732.2 1389.6 751.6 1390.4 748.2C1391.2 744.8 1392.2 702.8 1392.6 702.8C1393.0 702.8 1394.0 738.7 1394.8 748.2C1395.6 757.8 1400.0 787.0 1400.8 798.1C1401.6 809.3 1402.6 865.3 1403.0 859.6C1403.4 853.9 1404.5 760.6 1404.9 741.1C1405.3 721.6 1406.7 664.6 1407.1 664.6C1407.5 664.6 1408.6 728.1 1409.3 741.1C1410.0 754.0 1412.8 793.3 1413.8 793.8C1414.7 794.3 1417.9 745.6 1418.9 746.3C1420.0 747.0 1423.1 802.3 1424.0 800.8C1425.0 799.3 1428.0 750.2 1428.7 731.0C1429.4 711.9 1430.5 608.8 1430.9 608.8C1431.3 608.8 1432.4 711.3 1433.1 731.0C1433.8 750.8 1437.0 792.3 1437.7 805.8C1438.4 819.3 1439.5 866.0 1439.9 866.0C1440.3 866.0 1441.3 812.4 1442.1 805.8C1442.9 799.3 1446.6 805.0 1447.5 800.6C1448.5 796.1 1450.6 761.4 1451.7 761.5C1452.7 761.7 1457.1 801.4 1458.1 801.9C1459.1 802.4 1460.9 766.6 1461.8 766.8C1462.7 766.9 1465.7 804.4 1466.8 803.8C1467.9 803.1 1471.9 760.0 1473.0 760.2C1474.1 760.4 1476.6 805.6 1477.6 805.9C1478.6 806.3 1482.3 773.4 1483.1 763.9C1483.9 754.4 1484.9 710.8 1485.3 710.8C1485.7 710.8 1486.8 754.4 1487.5 763.9C1488.2 773.5 1491.4 805.9 1492.5 806.5C1493.6 807.1 1497.9 769.9 1498.9 769.8C1500.0 769.7 1502.2 805.2 1503.3 805.3C1504.4 805.4 1508.6 770.5 1509.8 770.7C1511.0 771.0 1514.3 809.6 1515.3 807.9C1516.4 806.2 1519.4 769.2 1520.1 753.6C1520.8 738.0 1521.9 651.8 1522.3 651.8C1522.7 651.8 1523.8 737.2 1524.5 753.6C1525.2 770.0 1528.6 816.3 1529.5 816.0C1530.5 815.6 1533.4 749.7 1534.4 749.8C1535.4 749.9 1538.5 814.2 1539.4 816.8C1540.3 819.5 1542.5 776.9 1543.3 776.5C1544.2 776.1 1547.0 812.2 1547.9 812.6C1548.8 812.9 1551.6 782.8 1552.6 779.9C1553.7 777.0 1557.6 786.1 1558.4 784.0C1559.2 781.8 1560.2 758.5 1560.6 758.5C1561.0 758.5 1562.0 778.0 1562.8 784.0C1563.6 789.9 1567.1 818.3 1568.1 817.9C1569.2 817.5 1572.4 780.1 1573.3 780.2C1574.3 780.2 1576.8 817.5 1577.8 818.1C1578.7 818.7 1582.1 789.8 1583.1 786.0C1584.1 782.2 1586.9 784.7 1587.6 779.9C1588.3 775.2 1589.4 738.9 1589.8 738.9C1590.2 738.9 1591.7 771.3 1592.0 779.9C1592.3 788.6 1592.6 814.7 1592.9 825.0C1593.2 835.2 1594.7 882.4 1595.1 882.4C1595.5 882.4 1596.5 834.5 1597.3 825.0C1598.1 815.4 1602.0 788.4 1602.9 787.0C1603.8 785.6 1605.3 810.7 1606.1 810.9C1606.9 811.1 1610.2 788.3 1611.3 789.0C1612.4 789.8 1616.1 818.0 1616.9 818.2C1617.8 818.3 1619.4 790.9 1620.2 790.3C1621.1 789.7 1624.6 812.6 1625.6 812.1C1626.6 811.6 1629.4 785.2 1630.3 785.4C1631.2 785.6 1633.4 813.9 1634.4 814.2C1635.4 814.6 1639.4 785.6 1640.4 788.9C1641.4 792.2 1643.7 829.6 1644.3 847.2C1644.9 864.8 1646.1 965.0 1646.5 965.0C1646.9 965.0 1648.0 861.9 1648.7 847.2C1649.4 832.5 1652.1 824.1 1653.1 818.0C1654.1 812.0 1657.6 787.1 1658.6 786.8C1659.6 786.4 1662.1 814.5 1663.0 814.6C1663.9 814.7 1666.8 789.1 1667.7 787.9C1668.6 786.8 1671.1 801.5 1672.0 803.0C1672.9 804.5 1676.5 803.0 1677.0 803.0"/>
<path class="c" stroke="#b177de" d="M200.0 289.2C201.2 289.3 201.5 289.4 207.1 290.3C212.8 291.2 223.9 292.4 234.0 294.5C244.1 296.7 256.7 300.2 268.0 303.0C279.3 305.9 290.7 308.4 302.0 311.5C313.3 314.6 326.1 318.3 336.0 321.7C345.9 325.1 353.0 327.5 361.5 331.9C370.0 336.3 378.5 342.5 387.0 348.1C395.5 353.6 404.0 359.8 412.5 365.1C421.0 370.3 429.5 375.7 438.0 379.5C446.5 383.3 456.4 386.3 463.5 388.0C470.5 389.7 474.4 389.7 480.5 389.7C486.5 389.7 494.4 389.0 500.0 388.0C505.6 387.0 509.4 384.5 514.0 383.7C518.6 382.8 523.1 382.7 527.6 382.8C532.1 383.0 536.4 383.5 541.2 384.5C546.0 385.5 551.1 387.4 556.5 388.8C561.9 390.2 567.8 391.6 573.5 393.0C579.2 394.4 584.8 395.3 590.5 397.3C596.1 399.3 601.8 401.8 607.5 404.9C613.1 408.0 618.8 411.9 624.5 416.0C630.1 420.1 636.7 425.3 641.5 429.6C646.2 433.7 649.8 437.6 653.4 441.5C656.8 445.2 660.6 450.2 663.6 453.4C666.4 456.5 669.5 460.1 672.1 461.9C674.6 463.6 677.6 464.8 680.6 465.3C683.4 465.7 689.6 464.5 692.5 464.9C695.2 465.4 698.7 467.1 701.0 468.7C703.2 470.2 707.2 474.9 709.5 476.3C711.6 477.7 716.0 479.8 718.0 479.7C719.8 479.6 723.1 476.8 724.8 475.5C726.4 474.2 730.0 469.7 731.6 468.7C733.1 467.7 736.8 467.0 738.4 467.0C739.9 467.0 743.8 467.7 745.2 468.7C746.4 469.6 749.2 473.5 750.3 475.5C751.3 477.4 754.3 485.0 755.4 487.4C756.3 489.7 759.2 495.6 760.0 498.2C760.8 500.7 762.7 510.0 763.4 512.9C764.1 515.9 766.0 524.5 766.8 527.6C767.6 530.8 770.4 542.4 771.3 544.6C772.2 546.9 775.1 550.9 775.9 550.3C776.7 549.7 778.7 542.4 779.3 539.0C779.8 535.6 781.0 520.3 781.5 516.3C782.1 512.4 784.3 501.2 784.9 499.3C785.6 497.4 787.2 495.9 787.8 497.1C788.3 498.2 790.1 507.0 790.6 510.7C791.1 514.3 792.4 528.2 792.9 533.3C793.3 538.4 794.7 554.4 795.1 561.6C795.5 568.8 796.5 598.7 796.8 605.3C797.2 612.0 797.9 623.5 798.5 628.0C799.2 632.5 802.0 646.7 803.1 650.7C804.1 654.6 807.5 664.9 808.7 667.6C810.0 670.4 814.4 678.4 815.5 677.8C816.7 677.3 819.3 667.0 820.1 662.0C820.8 657.0 822.9 634.8 823.5 628.0C824.0 621.2 825.3 600.8 825.7 594.0C826.2 587.2 827.4 566.6 828.0 560.0C828.6 553.4 830.7 533.2 831.4 527.6C832.1 522.1 834.0 507.9 834.8 505.0C835.6 502.0 838.4 498.1 839.3 498.2C840.2 498.3 843.1 503.7 843.9 506.1C844.6 508.5 846.6 518.1 847.3 522.0C847.9 525.8 850.0 540.1 850.7 544.6C851.3 549.2 853.0 562.0 854.1 567.3C855.1 572.6 859.5 593.6 860.8 597.4C862.2 601.2 866.3 605.2 867.6 605.3C869.0 605.4 873.3 600.2 874.4 598.5C875.6 596.8 878.2 589.5 879.0 588.3C879.8 587.1 881.7 586.1 882.4 586.6C883.1 587.2 885.1 591.6 885.8 594.0C886.5 596.4 888.3 607.4 889.2 611.0C890.0 614.6 893.4 629.7 894.3 630.3C895.2 630.8 897.4 620.3 898.2 616.7C899.1 613.0 901.9 597.4 902.8 594.0C903.7 590.6 906.3 584.9 907.3 582.7C908.3 580.4 911.6 573.0 913.0 571.3C914.3 569.6 919.5 566.3 920.9 565.7C922.3 565.0 925.1 564.8 926.6 565.1C928.0 565.4 933.6 567.6 935.6 569.1C937.7 570.5 945.0 577.2 947.0 579.3C948.9 581.3 953.6 586.9 954.9 589.5C956.2 592.1 959.1 601.5 960.0 605.3C960.9 609.1 962.6 619.2 963.8 627.3C965.0 635.4 970.3 675.1 971.7 686.7C973.1 698.3 976.3 733.7 977.4 743.3C978.5 752.9 982.1 783.0 983.1 783.0C984.1 783.0 986.8 751.8 987.6 743.3C988.4 734.8 990.4 705.9 991.0 698.0C991.6 690.1 992.9 669.7 993.3 664.0C993.7 658.3 994.6 648.9 995.0 641.3C995.4 633.7 997.1 594.0 997.7 587.6C998.3 581.2 1000.3 578.6 1001.2 577.5C1002.1 576.4 1005.6 575.3 1006.9 576.3C1008.1 577.3 1012.7 585.0 1013.7 587.6C1014.7 590.2 1016.3 600.7 1017.1 602.4C1017.9 604.1 1020.8 603.2 1021.6 604.6C1022.4 606.0 1024.4 613.2 1025.0 616.0C1025.6 618.8 1026.7 630.7 1027.3 633.0C1027.9 635.3 1029.8 639.2 1030.7 638.6C1031.6 638.0 1035.4 630.7 1036.3 627.3C1037.2 623.9 1039.0 608.6 1039.7 604.6C1040.4 600.6 1042.2 590.1 1043.1 587.6C1044.0 585.1 1047.7 580.6 1048.8 579.7C1049.9 578.8 1053.6 580.6 1054.4 578.6C1055.2 576.6 1056.0 562.2 1056.7 559.3C1057.4 556.3 1061.0 549.1 1061.8 549.1C1062.6 549.1 1064.2 556.0 1064.6 559.3C1065.0 562.6 1065.5 577.9 1065.8 582.0C1066.1 586.1 1067.3 599.5 1068.0 600.1C1068.7 600.7 1071.7 590.3 1072.6 587.6C1073.5 584.9 1076.0 575.0 1077.1 572.9C1078.2 570.8 1082.7 568.6 1083.9 566.1C1085.1 563.6 1088.3 552.1 1089.0 548.0C1089.7 543.9 1090.8 530.4 1091.3 525.3C1091.8 520.2 1093.3 503.0 1093.7 497.0C1094.1 491.0 1095.1 471.7 1095.5 465.0C1095.9 458.3 1097.6 429.6 1098.1 429.6C1098.6 429.6 1099.9 457.7 1100.2 465.0C1100.5 472.3 1100.7 496.7 1100.8 502.7C1100.9 508.7 1101.3 520.8 1101.5 525.3C1101.7 529.8 1102.2 541.2 1102.3 548.0C1102.4 554.8 1102.7 583.4 1102.8 593.3C1102.9 603.2 1103.1 637.7 1103.3 647.0C1103.5 656.3 1104.1 677.1 1104.3 686.7C1104.5 696.3 1105.0 733.7 1105.4 743.3C1105.8 752.9 1107.5 783.0 1108.3 783.0C1109.1 783.0 1112.6 751.8 1113.4 743.3C1114.2 734.8 1116.1 706.5 1116.8 698.0C1117.5 689.5 1119.5 664.3 1120.2 658.3C1120.9 652.2 1122.8 638.1 1123.6 637.5C1124.4 636.9 1127.2 649.7 1128.1 652.7C1129.0 655.7 1131.8 668.0 1132.6 667.4C1133.4 666.8 1135.6 651.0 1136.0 647.0C1136.4 643.0 1136.3 633.5 1136.4 627.3C1136.5 621.1 1137.0 592.9 1137.2 585.0C1137.4 577.1 1138.4 548.0 1138.7 548.0C1139.0 548.0 1140.0 576.8 1140.2 585.0C1140.4 593.2 1140.0 610.2 1141.0 630.0C1142.0 649.8 1149.5 763.0 1150.7 782.5C1151.9 802.0 1152.5 824.9 1152.9 824.9C1153.3 824.9 1154.4 790.4 1155.1 782.5C1155.8 774.6 1159.0 753.3 1159.7 746.0C1160.4 738.7 1161.5 709.7 1161.9 709.7C1162.3 709.7 1163.1 738.7 1164.1 746.0C1165.1 753.3 1170.6 782.3 1172.1 782.4C1173.6 782.5 1177.6 743.5 1178.9 746.7C1180.2 749.9 1184.1 795.6 1184.9 814.1C1185.7 832.6 1186.7 931.8 1187.1 931.8C1187.5 931.8 1188.9 832.8 1189.3 814.1C1189.7 795.4 1191.1 757.5 1191.5 744.8C1191.9 732.1 1193.3 687.0 1193.7 687.0C1194.1 687.0 1195.1 734.2 1195.9 744.8C1196.7 755.4 1200.9 783.7 1201.7 793.1C1202.5 802.5 1203.5 838.5 1203.9 838.5C1204.3 838.5 1205.7 801.0 1206.1 793.1C1206.6 785.3 1207.7 759.2 1208.4 760.0C1209.1 760.8 1212.3 790.4 1213.0 800.7C1213.7 810.9 1214.8 862.3 1215.2 862.3C1215.6 862.3 1216.5 806.5 1217.4 800.7C1218.3 794.8 1223.0 812.0 1224.4 804.1C1225.8 796.2 1230.6 707.4 1231.6 721.6C1232.6 735.8 1233.5 936.0 1233.9 946.3C1234.4 956.6 1235.4 839.9 1236.1 824.3C1236.8 808.6 1239.8 788.3 1241.0 790.0C1242.2 791.7 1246.7 842.7 1248.0 841.3C1249.3 839.9 1252.5 784.5 1253.7 775.8C1254.9 767.1 1258.9 750.7 1259.9 754.0C1260.9 757.3 1262.8 802.2 1263.9 808.4C1265.0 814.6 1269.4 822.6 1270.7 815.6C1272.1 808.6 1276.4 744.5 1277.5 738.6C1278.6 732.7 1280.8 748.2 1281.8 756.3C1282.9 764.4 1287.0 805.7 1287.8 819.7C1288.6 833.7 1289.6 896.3 1290.0 896.3C1290.4 896.3 1291.1 834.1 1292.2 819.7C1293.3 805.3 1299.7 768.8 1300.8 752.3C1301.9 735.9 1302.6 654.7 1303.0 654.7C1303.4 654.7 1304.4 737.8 1305.2 752.3C1306.0 766.9 1309.7 802.1 1311.0 800.0C1312.3 797.9 1317.3 755.7 1318.2 731.1C1319.1 706.5 1320.0 554.1 1320.4 554.1C1320.8 554.1 1322.2 704.2 1322.6 731.1C1323.0 758.1 1323.9 808.5 1324.3 823.6C1324.7 838.8 1326.1 882.6 1326.5 882.6C1326.9 882.6 1327.8 835.3 1328.7 823.6C1329.6 812.0 1334.3 765.5 1335.6 766.0C1336.8 766.5 1339.7 827.9 1340.8 828.3C1342.0 828.7 1346.0 769.5 1347.4 769.8C1348.8 770.1 1353.9 819.7 1354.9 831.3C1355.9 843.0 1356.8 891.3 1357.1 886.0C1357.4 880.7 1357.9 784.0 1358.1 778.5C1358.3 773.1 1359.1 838.4 1359.3 831.3C1359.5 824.3 1360.0 713.2 1360.3 707.9C1360.6 702.6 1361.7 770.4 1362.5 778.5C1363.3 786.7 1367.3 782.8 1368.5 789.7C1369.7 796.7 1373.6 848.7 1374.7 848.1C1375.8 847.5 1378.6 785.4 1379.5 784.1C1380.5 782.8 1382.9 831.0 1384.0 835.1C1385.0 839.3 1389.1 825.2 1390.3 825.6C1391.5 826.0 1394.8 841.9 1395.8 839.0C1396.8 836.2 1399.4 802.0 1400.5 797.1C1401.6 792.2 1405.8 798.7 1406.6 790.0C1407.4 781.4 1408.4 710.8 1408.8 710.8C1409.2 710.8 1410.4 776.3 1411.0 790.0C1411.6 803.8 1413.8 836.9 1414.4 847.9C1415.0 858.8 1416.2 899.6 1416.6 899.6C1417.0 899.6 1418.2 857.6 1418.8 847.9C1419.4 838.1 1422.0 801.5 1423.0 802.2C1424.1 802.8 1428.4 843.2 1429.2 854.2C1430.0 865.2 1431.0 912.4 1431.4 912.4C1431.8 912.4 1432.9 859.6 1433.6 854.2C1434.3 848.8 1437.2 863.3 1438.1 858.6C1439.0 853.9 1441.9 814.7 1442.8 807.3C1443.8 799.9 1446.7 799.7 1447.4 784.4C1448.1 769.1 1449.2 654.0 1449.6 654.0C1450.0 654.0 1451.3 762.4 1451.8 784.4C1452.3 806.5 1453.7 867.0 1454.4 874.5C1455.1 882.0 1457.9 865.0 1458.8 859.7C1459.7 854.3 1462.5 828.1 1463.2 820.7C1463.9 813.3 1465.0 785.7 1465.4 785.7C1465.8 785.7 1466.9 813.5 1467.6 820.7C1468.3 827.8 1471.3 857.9 1472.4 857.5C1473.4 857.2 1477.3 816.5 1478.3 817.2C1479.4 817.8 1482.0 863.9 1482.8 864.2C1483.7 864.6 1486.4 830.3 1487.0 820.3C1487.6 810.3 1488.8 764.4 1489.2 764.4C1489.6 764.4 1491.1 810.2 1491.4 820.3C1491.7 830.5 1492.0 864.7 1492.6 866.0C1493.2 867.3 1496.8 833.4 1497.9 832.9C1499.0 832.3 1502.3 857.2 1503.5 860.9C1504.7 864.5 1508.6 869.1 1509.6 869.4C1510.6 869.7 1513.2 868.6 1514.0 864.3C1514.8 859.9 1516.5 823.6 1517.3 825.6C1518.1 827.6 1521.4 883.1 1522.4 884.1C1523.4 885.1 1526.6 837.7 1527.6 836.1C1528.6 834.5 1531.6 863.6 1532.4 868.4C1533.2 873.1 1535.3 887.9 1536.0 883.5C1536.7 879.1 1539.1 836.8 1539.7 824.8C1540.3 812.8 1541.5 763.2 1541.9 763.2C1542.3 763.2 1543.5 817.1 1544.1 824.8C1544.7 832.5 1547.0 835.4 1548.0 840.4C1548.9 845.5 1552.6 873.1 1553.8 875.6C1555.0 878.1 1558.5 868.9 1559.6 865.4C1560.7 862.0 1563.9 841.3 1564.8 841.4C1565.6 841.5 1567.0 866.4 1568.0 866.7C1568.9 866.9 1573.3 846.3 1574.4 843.7C1575.4 841.1 1578.2 838.3 1578.8 840.6C1579.4 842.9 1580.3 869.1 1580.5 866.8C1580.7 864.4 1580.8 815.3 1581.0 817.1C1581.2 818.9 1582.5 882.8 1582.7 885.2C1582.9 887.6 1583.0 842.5 1583.2 840.6C1583.4 838.8 1584.3 866.3 1584.9 866.8C1585.5 867.2 1588.1 845.3 1589.2 845.4C1590.3 845.4 1594.9 867.4 1596.0 867.6C1597.0 867.8 1598.5 847.7 1599.4 847.3C1600.2 846.9 1603.3 859.8 1604.4 863.5C1605.5 867.2 1609.5 875.6 1610.3 884.4C1611.1 893.1 1612.1 950.9 1612.5 950.9C1612.9 950.9 1613.9 894.6 1614.7 884.4C1615.5 874.1 1619.2 850.5 1620.1 848.6C1621.1 846.7 1623.7 865.6 1624.5 865.3C1625.4 865.1 1627.8 845.9 1628.7 846.0C1629.6 846.1 1632.5 866.0 1633.4 866.2C1634.4 866.4 1637.3 848.3 1638.3 848.1C1639.3 847.9 1642.2 864.3 1643.3 864.1C1644.5 864.0 1648.6 846.4 1649.6 846.7C1650.7 847.1 1653.0 863.9 1653.6 867.4C1654.2 870.9 1655.4 881.3 1655.8 881.3C1656.2 881.3 1657.4 868.9 1658.0 867.4C1658.6 865.9 1661.4 868.5 1662.3 866.7C1663.2 864.9 1665.8 850.5 1666.8 849.5C1667.8 848.5 1671.0 856.2 1672.0 857.0C1673.0 857.8 1676.5 857.0 1677.0 857.0"/>
</g>
<g fill="#000"><rect x="202.5" y="1163.0" width="23.5" height="10"/><rect x="202.5" y="1052.0" width="11.5" height="10"/><rect x="202.5" y="941.0" width="23.5" height="10"/><rect x="202.5" y="830.0" width="11.5" height="10"/><rect x="202.5" y="719.0" width="23.5" height="10"/><rect x="202.5" y="608.0" width="11.5" height="10"/><rect x="202.5" y="497.0" width="23.5" height="10"/><rect x="202.5" y="386.0" width="11.5" height="10"/><rect x="202.5" y="275.0" width="23.5" height="10"/><rect x="202.5" y="164.0" width="11.5" height="10"/><rect x="419.7" y="1266" width="9" height="12"/><rect x="549.4" y="1266" width="9" height="12"/><rect x="641.4" y="1266" width="9" height="12"/><rect x="712.8" y="1266" width="9" height="12"/><rect x="771.1" y="1266" width="9" height="12"/><rect x="820.4" y="1266" width="9" height="12"/><rect x="863.1" y="1266" width="9" height="12"/><rect x="900.8" y="1266" width="9" height="12"/><rect x="1156.2" y="1266" width="9" height="12"/><rect x="1285.9" y="1266" width="9" height="12"/><rect x="1377.9" y="1266" width="9" height="12"/><rect x="1449.3" y="1266" width="9" height="12"/><rect x="1507.6" y="1266" width="9" height="12"/><rect x="1556.9" y="1266" width="9" height="12"/><rect x="1599.6" y="1266" width="9" height="12"/><rect x="1637.3" y="1266" width="9" height="12"/><rect x="934.0" y="1254" width="10" height="24"/></g>
<g fill="#000"><rect x="198" y="53.3" width="9" height="1229.5"/><rect x="1671.1" y="53.3" width="8.7" height="1229.5"/><rect x="198" y="53.3" width="1481.8" height="9.5"/><rect x="198" y="1274.2" width="1481.8" height="8.6"/></g>
<g font-size="100">
<text transform="matrix(0.7620 0 0 0.7850 63.95 74.25)">100</text>
<text transform="matrix(0.7620 0 0 0.7850 102.05 296.25)">80</text>
<text transform="matrix(0.7620 0 0 0.7850 102.05 518.25)">60</text>
<text transform="matrix(0.7620 0 0 0.7850 102.05 740.25)">40</text>
<text transform="matrix(0.7620 0 0 0.7850 102.05 962.25)">20</text>
<text transform="matrix(0.7620 0 0 0.7850 140.15 1184.25)">0</text>
<text transform="matrix(0.7720 0 0 0.7770 162.47 1357.30)">10</text>
<text transform="matrix(0.7540 0 0 0.7770 881.07 1357.30)">100</text>
<text transform="matrix(0.7520 0 0 0.7770 1598.92 1357.30)">1000</text>
<text transform="matrix(0 -0.7582 0.7310 0 71.54 1072.66)"><tspan class="i">Sound Pressure Level</tspan> <tspan x="885.9" font-size="101.5" textLength="181" lengthAdjust="spacingAndGlyphs">(dB)</tspan></text>
<text transform="matrix(0.742 0 -0.2055 0.742 833.7 1436.7)"><tspan class="i">f</tspan></text>
<text transform="matrix(0.7257 0 0 0.75 902.1 1435.75)" x="-27.7">/(Hz)</text>
<text transform="matrix(0.7041 0 0 0.7448 497.17 818.51)">SUBOFF</text>
<text transform="matrix(0.6898 0 0 0.7591 497.83 908.64)"><tspan class="i">a</tspan><tspan dx="-3.9" textLength="66.2" lengthAdjust="spacingAndGlyphs">=</tspan><tspan dx="-5.9">2.5</tspan></text>
<text transform="matrix(0.6741 0 0 0.7478 497.88 996.55)"><tspan class="i">a</tspan><tspan dx="-3.9" textLength="66.2" lengthAdjust="spacingAndGlyphs">=</tspan><tspan dx="-5.9">1</tspan></text>
<text transform="matrix(0.6924 0 0 0.7478 497.82 1084.80)"><tspan class="i">a</tspan><tspan dx="-3.9" textLength="66.2" lengthAdjust="spacingAndGlyphs">=</tspan><tspan dx="-5.9">0.75</tspan></text>
<text transform="matrix(0.7009 0 0 0.7567 497.80 1172.89)"><tspan class="i">a</tspan><tspan dx="-3.9" textLength="66.2" lengthAdjust="spacingAndGlyphs">=</tspan><tspan dx="-5.9">0.6</tspan></text>
</g>
<rect x="323" y="788.5" width="141" height="9.8" fill="#515151"/>
<rect x="323" y="876.8" width="141" height="9.8" fill="#f14040"/>
<rect x="323" y="965.1" width="141" height="9.8" fill="#1a6fdf"/>
<rect x="323" y="1053.4" width="141" height="9.8" fill="#37ad6b"/>
<rect x="323" y="1141.7" width="141" height="9.8" fill="#b177de"/>
</svg></body></html>
